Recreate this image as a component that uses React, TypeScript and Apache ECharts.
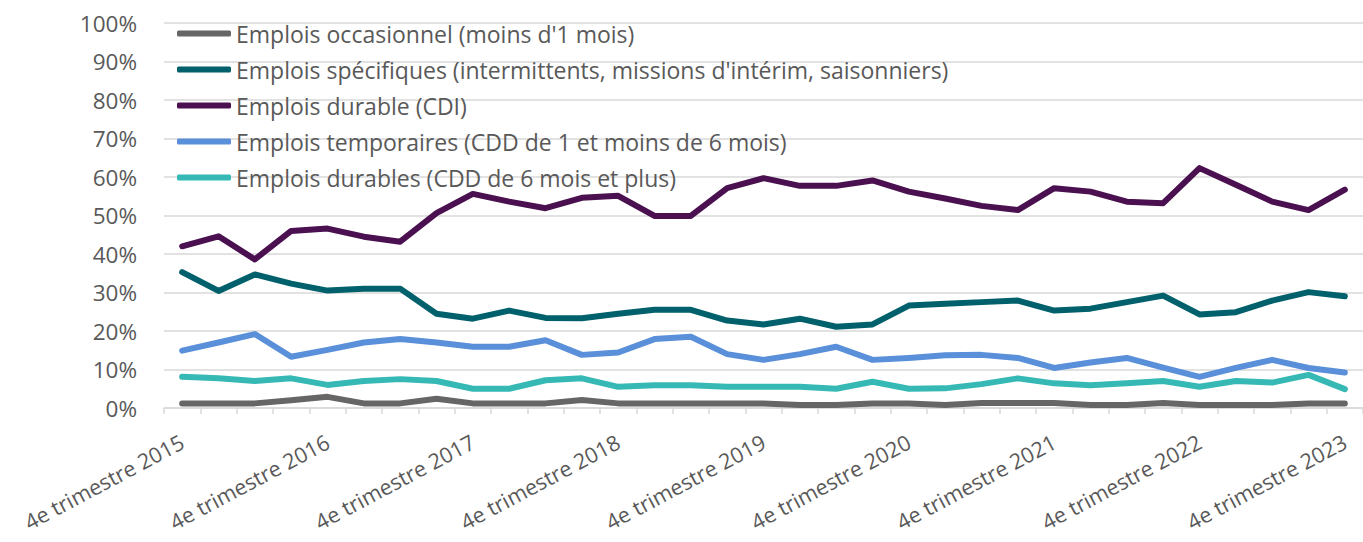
import React, { useEffect, useRef } from "react";
import * as echarts from "echarts";

const quarterNames = ["1er", "2e", "3e", "4e"];

// 4e trimestre 2015 ... 4e trimestre 2023 (33 quarters)
const categories: string[] = [];
categories.push("4e trimestre 2015");
for (let y = 2016; y <= 2023; y++) {
  for (let q = 0; q < 4; q++) categories.push(`${quarterNames[q]} trimestre ${y}`);
}

const seriesNames = [
  "Emplois occasionnel (moins d'1 mois)",
  "Emplois spécifiques (intermittents, missions d'intérim, saisonniers)",
  "Emplois durable (CDI)",
  "Emplois temporaires (CDD de 1 et moins de 6 mois)",
  "Emplois durables (CDD de 6 mois et plus)",
];

const occasionnel = [1.2, 1.2, 1.2, 2.0, 2.9, 1.2, 1.2, 2.4, 1.2, 1.2, 1.2, 2.1, 1.2, 1.2, 1.2, 1.2, 1.2, 0.8, 0.8, 1.2, 1.2, 0.8, 1.3, 1.3, 1.3, 0.8, 0.8, 1.3, 0.8, 0.8, 0.8, 1.2, 1.2];
const specifiques = [35.3, 30.4, 34.7, 32.3, 30.5, 31.0, 31.0, 24.5, 23.2, 25.3, 23.4, 23.3, 24.5, 25.5, 25.5, 22.7, 21.7, 23.2, 21.1, 21.7, 26.6, 27.1, 27.5, 27.9, 25.3, 25.8, 27.5, 29.2, 24.3, 24.9, 27.9, 30.1, 29.0];
const cdi = [42.0, 44.6, 38.6, 46.0, 46.6, 44.5, 43.2, 50.6, 55.6, 53.6, 51.9, 54.6, 55.1, 49.9, 49.9, 57.1, 59.7, 57.7, 57.7, 59.1, 56.2, 54.4, 52.5, 51.4, 57.1, 56.2, 53.6, 53.2, 62.3, 58.0, 53.6, 51.4, 56.7];
const temporaires = [14.9, 17.0, 19.2, 13.3, 15.1, 17.0, 17.9, 17.0, 15.9, 15.9, 17.6, 13.8, 14.4, 17.9, 18.5, 14.0, 12.5, 14.0, 15.9, 12.5, 13.0, 13.7, 13.8, 13.0, 10.4, 11.8, 13.0, 10.5, 8.1, 10.4, 12.5, 10.4, 9.2];
const cdd6 = [8.1, 7.7, 7.0, 7.7, 6.0, 7.0, 7.5, 7.0, 5.0, 5.0, 7.2, 7.7, 5.5, 5.9, 5.9, 5.5, 5.5, 5.5, 5.0, 6.8, 5.0, 5.1, 6.2, 7.7, 6.4, 5.9, 6.4, 7.0, 5.5, 7.0, 6.6, 8.6, 4.9];

const seriesData = [occasionnel, specifiques, cdi, temporaires, cdd6];
const colors = ["#666666", "#00606B", "#4A1050", "#5A8FD9", "#36B9B5"];

const FONT = "Open Sans";
const TEXT_COLOR = "#595959";

export default function App() {
  const ref = useRef<HTMLDivElement>(null);
  useEffect(() => {
    if (!ref.current) return;
    const chart = echarts.init(ref.current, null, { renderer: "svg" });
    chart.setOption({
      animation: false,
      backgroundColor: "#ffffff",
      textStyle: { fontFamily: FONT },
      grid: { left: 164, right: -5, top: 23, bottom: 134, containLabel: false },
      legend: {
        orient: "vertical",
        left: 177,
        top: 22,
        padding: 0,
        itemGap: 13,
        itemWidth: 54,
        itemHeight: 6,
        icon: "roundRect",
        textStyle: { fontFamily: FONT, fontSize: 23, color: TEXT_COLOR },
        data: seriesNames,
      },
      xAxis: {
        type: "category",
        data: categories,
        boundaryGap: true,
        axisLine: { show: true, lineStyle: { color: "#d9d9d9", width: 1.5 } },
        axisTick: { show: true, interval: 0, length: 6, lineStyle: { color: "#d9d9d9", width: 1.5 } },
        axisLabel: {
          interval: 3,
          rotate: 28,
          margin: 32,
          fontFamily: FONT,
          fontSize: 21.5,
          color: TEXT_COLOR,
        },
        splitLine: { show: false },
      },
      yAxis: {
        type: "value",
        min: 0,
        max: 100,
        interval: 10,
        axisLine: { show: false },
        axisTick: { show: false },
        axisLabel: {
          formatter: "{value}%",
          margin: 27,
          fontFamily: FONT,
          fontSize: 22.5,
          color: TEXT_COLOR,
        },
        splitLine: { show: true, lineStyle: { color: "#d9d9d9", width: 1.5 } },
      },
      series: seriesNames.map((name, i) => ({
        name,
        type: "line",
        data: seriesData[i],
        symbol: "none",
        color: colors[i],
        lineStyle: { color: colors[i], width: 6, cap: "round", join: "round" },
        z: 2 + i,
      })),
    });
    return () => chart.dispose();
  }, []);
  return (
    <div
      ref={ref}
      style={{ position: "fixed", left: 0, top: 0, width: 1363, height: 542, overflow: "hidden" }}
    />
  );
}
